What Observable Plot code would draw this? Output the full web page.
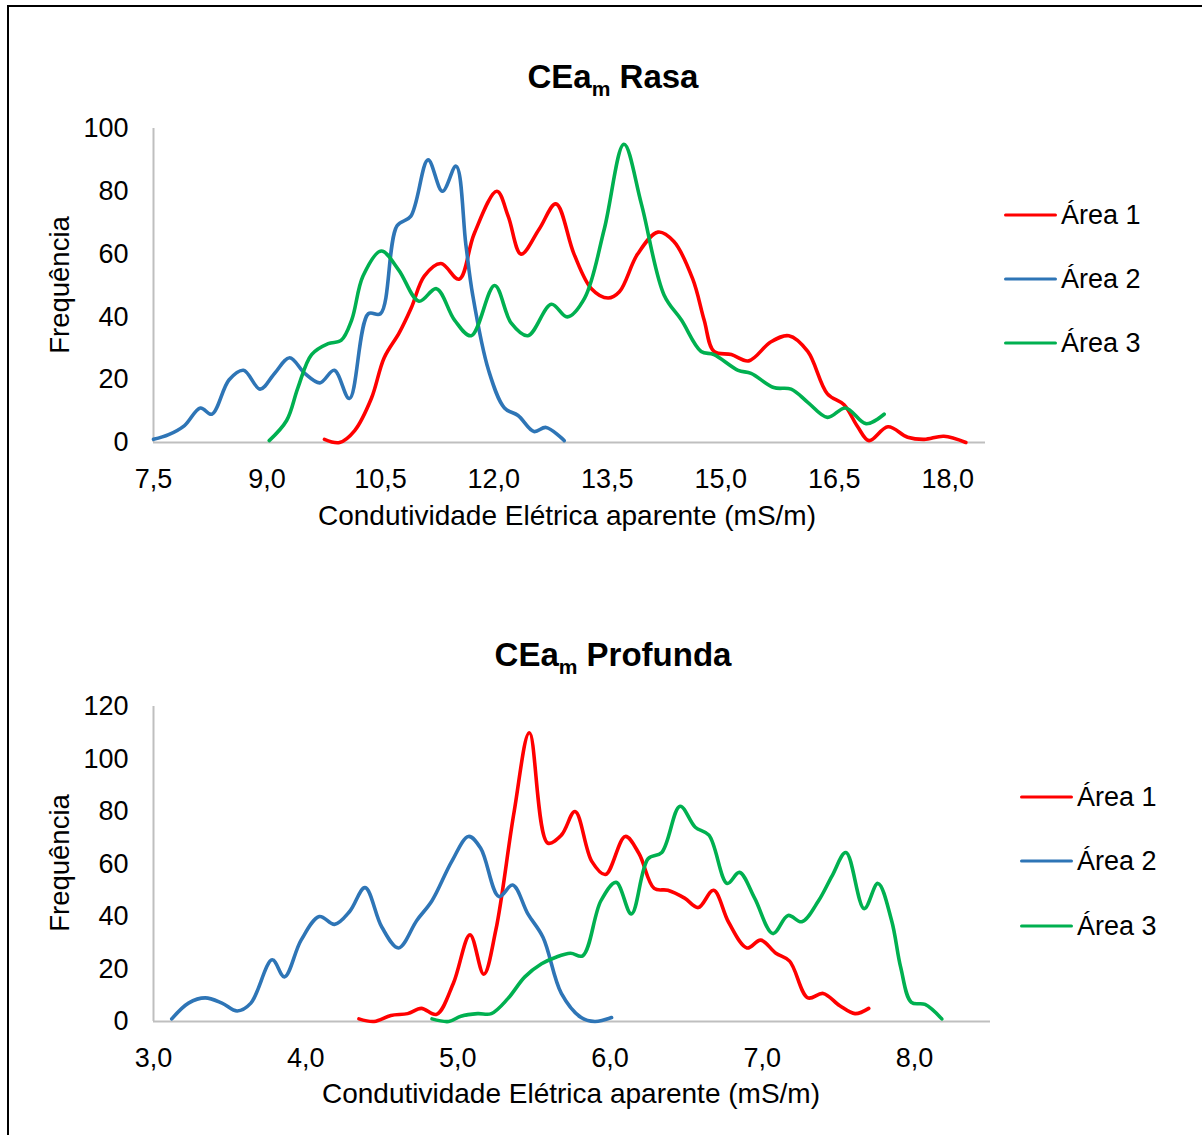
<!DOCTYPE html>
<html>
<head>
<meta charset="utf-8">
<script src="https://cdn.jsdelivr.net/npm/d3@7"></script>
<script src="https://cdn.jsdelivr.net/npm/@observablehq/plot@0.6"></script>
<style>
  html, body { margin: 0; padding: 0; background: #fff; }
  body { font-family: "Liberation Sans", Arial, sans-serif; color: #000; }
  #root { position: relative; width: 1202px; height: 1135px; overflow: hidden; background: #fff; }
  #frame { position: absolute; left: 7px; top: 5px; width: 1400px; height: 1400px; border-left: 2px solid #000; border-top: 2px solid #000; box-sizing: border-box; }
  .title { position: absolute; left: 0; width: 1226px; text-align: center; font-weight: bold; font-size: 33px; line-height: 33px; white-space: nowrap; }
  .title .sub { font-size: 21px; position: relative; top: 8px; }
  .xlabel { position: absolute; text-align: center; font-size: 28px; line-height: 28px; white-space: nowrap; }
  .ylabel { position: absolute; font-size: 27.5px; line-height: 28px; white-space: nowrap; transform: translate(-50%, -50%) rotate(-90deg); }
  .chart { position: absolute; left: 0; }
  .legend { position: absolute; font-size: 27px; }
  .legend .row { position: absolute; left: 0; display: flex; align-items: center; white-space: nowrap; transform: translateY(-50%); }
  .legend .sw { display: inline-block; width: 53px; height: 3.5px; margin-right: 4px; border-radius: 2px; }
</style>
</head>
<body>
<div id="root">
  <div id="frame"></div>
</div>
<script>
// ---------- data ----------
const seriesNames = ["Área 1", "Área 2", "Área 3"];
const seriesColors = ["#ff0000", "#2e75b6", "#00b050"];

// CEam Rasa  [condutividade (mS/m), frequência]
const rasaArea1 = [[9.76,1],[9.96,0],[10.16,3.8],[10.38,14],[10.55,27],[10.75,35],[10.91,43],[11.08,53],[11.3,57],[11.54,52],[11.74,66.5],[12.04,80],[12.19,72],[12.36,60],[12.6,68],[12.82,76],[13.06,60],[13.29,49],[13.51,46],[13.66,48],[13.9,60],[14.17,67],[14.38,64],[14.63,52],[14.78,39],[14.91,29],[15.14,28],[15.37,26],[15.66,32],[15.9,34],[16.15,29],[16.41,15.5],[16.63,12],[16.81,5],[16.96,0.6],[17.21,5],[17.47,1.7],[17.69,1],[17.95,2],[18.24,0]];
const rasaArea2 = [[7.5,1],[7.7,2.5],[7.91,5.4],[8.12,11],[8.27,9],[8.5,20],[8.69,23],[8.91,17],[9.1,22],[9.3,27],[9.5,22],[9.7,19],[9.89,23],[10.09,14],[10.34,41],[10.5,41],[10.72,69],[10.9,72],[11.13,90],[11.32,80],[11.5,88],[11.63,63],[11.72,47],[11.93,23],[12.14,11],[12.32,8.6],[12.53,3.5],[12.69,4.8],[12.93,0.6]];
const rasaArea3 = [[9.03,0.6],[9.26,7],[9.41,17.5],[9.59,28],[9.81,31.5],[9.98,32.5],[10.12,39],[10.27,53],[10.51,61],[10.74,55],[11.01,45],[11.24,49],[11.48,39],[11.7,34],[12.01,50],[12.23,38],[12.45,34],[12.76,44],[12.97,40],[13.2,46],[13.46,68],[13.72,95],[13.95,76],[14.25,47],[14.48,39],[14.74,29],[14.91,28],[15.23,23],[15.4,22],[15.7,17.5],[15.93,17],[16.15,12.8],[16.41,8],[16.65,11],[16.92,6],[17.16,9]];

// CEam Profunda
const profArea1 = [[4.35,1],[4.45,0],[4.56,2.3],[4.67,3],[4.76,5],[4.86,2.7],[4.97,14.5],[5.08,33],[5.17,18],[5.25,35],[5.37,80],[5.47,110],[5.59,68],[5.68,71],[5.77,80],[5.88,61],[5.97,56],[6.1,70.5],[6.19,64],[6.29,50.7],[6.38,50],[6.49,47],[6.58,43.4],[6.68,50],[6.78,37.7],[6.9,28],[6.99,31],[7.09,26],[7.18,23],[7.3,9],[7.4,10.7],[7.51,6],[7.61,3],[7.7,5]];
const profArea2 = [[3.12,1],[3.23,7],[3.34,9],[3.45,7],[3.55,4],[3.64,7],[3.78,23.5],[3.86,17],[3.97,31],[4.09,40],[4.19,37],[4.29,42],[4.39,51],[4.5,36],[4.61,28],[4.73,38.5],[4.83,46],[4.96,61],[5.07,70.5],[5.15,66],[5.27,47.6],[5.36,52],[5.46,41],[5.56,32],[5.68,10.7],[5.81,1.5],[5.9,0],[6.01,1.5]];
const profArea3 = [[4.83,1],[4.94,0],[5.02,2],[5.13,3],[5.22,3],[5.33,8.8],[5.44,17],[5.55,22],[5.64,24.4],[5.74,26],[5.82,25],[5.94,46],[6.04,53],[6.14,41],[6.25,62],[6.34,64.4],[6.46,82],[6.56,74],[6.65,71],[6.77,52.6],[6.85,56.8],[6.95,47],[7.07,33.5],[7.17,40.4],[7.26,38],[7.37,46],[7.46,55.6],[7.55,64.4],[7.67,43],[7.76,52.6],[7.85,38.5],[7.91,20.6],[7.98,7.3],[8.07,6.5],[8.18,1]];

const rasaXTicks = [7.5, 9.0, 10.5, 12.0, 13.5, 15.0, 16.5, 18.0];
const rasaYTicks = [0, 20, 40, 60, 80, 100];
const profXTicks = [3.0, 4.0, 5.0, 6.0, 7.0, 8.0];
const profYTicks = [0, 20, 40, 60, 80, 100, 120];

const xTitle = "Condutividade Elétrica aparente (mS/m)";
const yTitle = "Frequência";

// ---------- drawing ----------
const root = document.getElementById("root");
const fmt = d => d.toFixed(1).replace(".", ",");

function chart({top, height, mt, mb, ml, mr, xDomain, yDomain, xTicks, yTicks, series}) {
  const marks = [
    Plot.ruleX([xDomain[0]], {stroke: "#bfbfbf", strokeWidth: 2}),
    Plot.ruleY([0], {stroke: "#bfbfbf", strokeWidth: 2}),
    Plot.axisX({ticks: xTicks, tickFormat: fmt, tickSize: 0, tickPadding: 26, fontSize: 27, label: null}),
    Plot.axisY({ticks: yTicks, tickSize: 0, tickPadding: 25, fontSize: 27, label: null})
  ];
  series.forEach((s, i) => {
    const data = s.map(([x, y]) => ({x, y}));
    marks.push(Plot.line(data, {x: "x", y: "y", stroke: seriesColors[i], strokeWidth: 3.6, curve: "catmull-rom", strokeLinecap: "round", strokeLinejoin: "round"}));
  });
  const svg = Plot.plot({
    width: 1202, height,
    marginTop: mt, marginBottom: mb, marginLeft: ml, marginRight: mr,
    x: {domain: xDomain},
    y: {domain: yDomain},
    style: {fontFamily: "'Liberation Sans', Arial, sans-serif", fontSize: "27px", color: "#000", background: "transparent", overflow: "visible"},
    marks
  });
  svg.classList.add("chart");
  svg.style.top = top + "px";
  root.appendChild(svg);
}

function addTitle(top, main, rest) {
  const d = document.createElement("div");
  d.className = "title";
  d.style.top = top + "px";
  d.innerHTML = main + '<span class="sub">m</span> ' + rest;
  root.appendChild(d);
}
function addXLabel(cx, top) {
  const d = document.createElement("div");
  d.className = "xlabel";
  d.style.left = (cx - 400) + "px";
  d.style.width = "800px";
  d.style.top = top + "px";
  d.textContent = xTitle;
  root.appendChild(d);
}
function addYLabel(cx, cy) {
  const d = document.createElement("div");
  d.className = "ylabel";
  d.style.left = cx + "px";
  d.style.top = cy + "px";
  d.textContent = yTitle;
  root.appendChild(d);
}
function addLegend(left, rows) {
  const lg = document.createElement("div");
  lg.className = "legend";
  lg.style.left = left + "px";
  lg.style.top = "0px";
  seriesNames.forEach((n, i) => {
    const r = document.createElement("div");
    r.className = "row";
    r.style.top = rows[i] + "px";
    r.innerHTML = '<span class="sw" style="background:' + seriesColors[i] + '"></span><span>' + n + '</span>';
    lg.appendChild(r);
  });
  root.appendChild(lg);
}

// Rasa
addTitle(60, "CEa", "Rasa");
chart({top: 100, height: 440, mt: 28, mb: 98, ml: 153, mr: 217, xDomain: [7.5, 18.5], yDomain: [0, 100], xTicks: rasaXTicks, yTicks: rasaYTicks, series: [rasaArea1, rasaArea2, rasaArea3]});
addXLabel(567, 502);
addYLabel(60, 285);
addLegend(1004, [215, 279, 343]);

// Profunda
addTitle(638, "CEa", "Profunda");
chart({top: 680, height: 440, mt: 26, mb: 99, ml: 153, mr: 212, xDomain: [3, 8.5], yDomain: [0, 120], xTicks: profXTicks, yTicks: profYTicks, series: [profArea1, profArea2, profArea3]});
addXLabel(571, 1080);
addYLabel(60, 863);
addLegend(1020, [797, 861, 926]);
</script>
</body>
</html>
